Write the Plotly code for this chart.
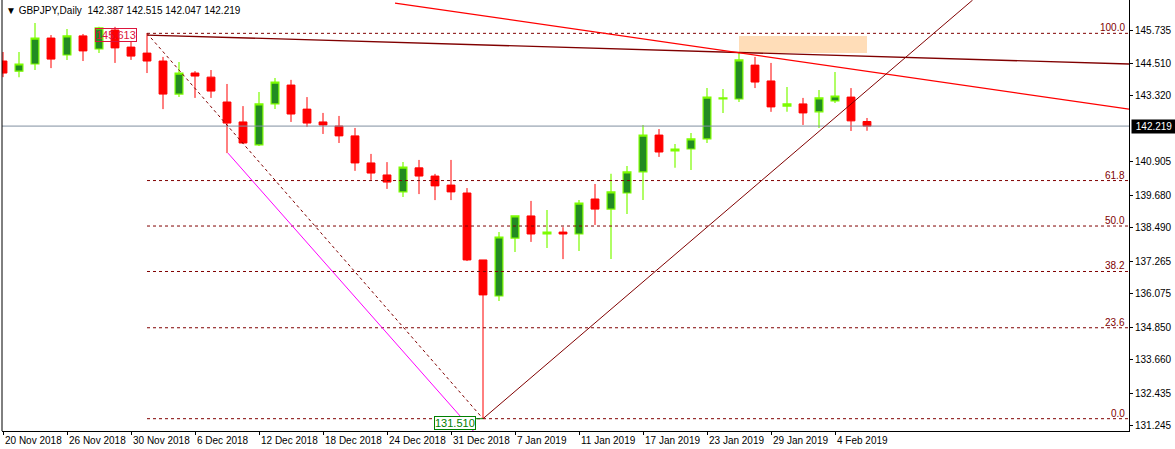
import plotly.graph_objects as go

dates = ["20 Nov","21 Nov","22 Nov","23 Nov","26 Nov","27 Nov","28 Nov","29 Nov","30 Nov",
         "3 Dec","4 Dec","5 Dec","6 Dec","7 Dec","10 Dec","11 Dec","12 Dec","13 Dec","14 Dec",
         "17 Dec","18 Dec","19 Dec","20 Dec","21 Dec","24 Dec","26 Dec","27 Dec","28 Dec","31 Dec",
         "2 Jan","3 Jan","4 Jan","7 Jan","8 Jan","9 Jan","10 Jan","11 Jan","14 Jan","15 Jan","16 Jan",
         "17 Jan","18 Jan","21 Jan","22 Jan","23 Jan","24 Jan","25 Jan","28 Jan","29 Jan","30 Jan",
         "31 Jan","1 Feb","4 Feb","5 Feb","6 Feb"]
open_ = [144.60,144.23,144.49,145.44,144.82,145.52,145.04,145.735,145.11,144.89,
         144.60,143.39,144.16,144.01,143.10,142.37,141.53,143.03,143.72,142.84,
         142.37,142.22,141.86,140.87,140.43,139.81,140.69,140.39,140.06,139.77,
         137.32,136.00,138.12,138.93,138.27,138.34,138.27,139.55,139.18,139.77,
         140.54,141.89,141.31,141.38,141.75,143.21,143.21,144.45,143.87,142.95,
         143.03,142.74,143.14,143.28,142.387]
high = [144.93,144.93,145.99,145.55,145.77,145.59,145.85,145.85,145.30,145.613,
        144.75,144.56,144.23,144.27,143.76,142.95,143.47,143.98,143.91,143.28,
        142.70,142.59,142.15,141.20,140.90,140.90,140.98,140.47,140.98,139.95,
        137.32,138.34,138.96,139.48,139.15,138.52,139.51,140.10,140.47,140.76,
        142.26,142.11,141.56,141.97,143.61,143.58,144.89,144.75,144.53,143.65,
        143.25,143.54,144.20,143.61,142.515]
low = [144.01,144.01,144.27,144.34,144.64,144.60,144.89,144.53,144.64,144.16,
       142.84,143.28,143.25,143.25,141.23,141.58,141.49,142.84,142.37,142.19,
       141.93,141.60,140.58,140.25,139.92,139.62,139.73,139.51,139.51,137.28,
       131.51,135.82,137.61,137.98,137.76,137.35,137.65,138.60,137.35,139.00,
       139.51,141.09,140.69,140.61,141.60,142.70,143.10,143.61,142.74,142.74,
       142.26,142.15,143.06,142.04,142.047]
close = [144.16,144.49,145.44,144.67,145.52,144.97,145.81,145.08,144.78,144.60,
         143.39,144.16,144.05,143.50,142.33,141.60,143.03,143.83,142.66,142.33,
         142.26,141.86,140.87,140.50,140.17,140.72,140.39,140.03,139.81,137.32,
         136.04,138.16,138.93,138.27,138.34,138.27,139.40,139.18,139.81,140.54,
         141.89,141.27,141.38,141.75,143.28,143.25,144.64,143.83,142.92,143.03,
         142.70,143.25,143.32,142.41,142.219]

y_ticks = [145.735,144.510,143.320,140.905,139.680,138.490,137.265,136.075,134.850,133.660,132.435,131.245]
x_label_idx = [0,4,8,12,16,20,24,28,32,36,40,44,48,52]
x_labels = ["20 Nov 2018","26 Nov 2018","30 Nov 2018","6 Dec 2018","12 Dec 2018","18 Dec 2018",
            "24 Dec 2018","31 Dec 2018","7 Jan 2019","11 Jan 2019","17 Jan 2019","23 Jan 2019",
            "29 Jan 2019","4 Feb 2019"]
fib_high, fib_low = 145.613, 131.510
fib_levels = [100.0, 61.8, 50.0, 38.2, 23.6, 0.0]
last_price = 142.219

x = list(range(len(dates)))
XMIN, XMAX = -0.0625, 70.375
YMIN, YMAX = 131.06, 146.833
font = "Liberation Sans"

fig = go.Figure()
fig.add_shape(type="rect", x0=46, x1=54, y0=144.89, y1=145.52, fillcolor="#FFDDB8",
              line_width=0, layer="below")

fig.add_trace(go.Scatter(x=[XMIN, XMAX], y=[last_price]*2, mode="lines",
                         line=dict(color="#8090A0", width=1), hoverinfo="skip"))
for lv in fib_levels:
    p = fib_low + (fib_high - fib_low) * lv / 100
    fig.add_trace(go.Scatter(x=[9, XMAX], y=[p, p], mode="lines",
                             line=dict(color="#800000", width=1, dash="3px,3px"), hoverinfo="skip"))
    fig.add_annotation(x=XMAX, y=p, text=f"{lv:.1f}", showarrow=False, xanchor="right",
                       yanchor="bottom", xshift=-2, yshift=-2,
                       font=dict(family=font, size=10, color="#800000"))

fig.add_trace(go.Candlestick(x=x, open=open_, high=high, low=low, close=close,
    increasing=dict(line=dict(color="#7CFC00", width=1.2), fillcolor="#228B22"),
    decreasing=dict(line=dict(color="#FF0000", width=1), fillcolor="#FF0000"),
    whiskerwidth=0, hoverinfo="skip"))

fig.add_trace(go.Scatter(x=[9, 30], y=[fib_high, fib_low], mode="lines",
                         line=dict(color="#800000", width=1, dash="dot"), hoverinfo="skip"))
fig.add_trace(go.Scatter(x=[9, XMAX], y=[145.55, 144.49], mode="lines",
                         line=dict(color="#800000", width=1.3), hoverinfo="skip"))
fig.add_trace(go.Scatter(x=[24.5, XMAX], y=[146.72, 142.84], mode="lines",
                         line=dict(color="#FF0000", width=1.2), hoverinfo="skip"))
fig.add_trace(go.Scatter(x=[30, 60.6], y=[fib_low, 146.83], mode="lines",
                         line=dict(color="#800000", width=1), hoverinfo="skip"))
fig.add_trace(go.Scatter(x=[14.06, 30.06], y=[141.23, 130.62], mode="lines",
                         line=dict(color="#FF00FF", width=1), hoverinfo="skip"))
fig.add_trace(go.Scatter(x=[28.25, 30], y=[fib_low, fib_low], mode="lines",
                         line=dict(color="#008000", width=1), hoverinfo="skip"))

fig.add_annotation(x=7.06, y=145.55, text="145.613", showarrow=False,
                   font=dict(family=font, size=11, color="#DC143C"),
                   bordercolor="#DC143C", borderwidth=1, borderpad=0)
fig.add_annotation(x=28.25, y=131.35, text="131.510", showarrow=False,
                   font=dict(family=font, size=11, color="#008000"),
                   bordercolor="#008000", borderwidth=1, borderpad=0, bgcolor="white")

fig.add_annotation(x=XMAX, y=last_price, text=" 142.219 ", showarrow=False, xanchor="left",
                   xshift=2, font=dict(family=font, size=10, color="white"), bgcolor="black")
fig.add_annotation(xref="paper", yref="paper", x=0.002, y=1, yshift=-3, xanchor="left",
                   yanchor="top", showarrow=False,
                   text="▼ GBPJPY,Daily  142.387 142.515 142.047 142.219",
                   font=dict(family=font, size=10, color="black"))
for i, t in zip(x_label_idx, x_labels):
    fig.add_annotation(x=i, xref="x", yref="paper", y=0, yshift=-2, xanchor="left",
                       yanchor="top", showarrow=False, text=t,
                       font=dict(family=font, size=10, color="black"))

fig.update_layout(
    width=1175, height=449, margin=dict(l=2, r=46, t=0, b=18),
    paper_bgcolor="white", plot_bgcolor="white", showlegend=False,
    xaxis=dict(range=[XMIN, XMAX], rangeslider=dict(visible=False), showgrid=False,
               zeroline=False, tickvals=x_label_idx, showticklabels=False, ticks="outside",
               ticklen=3, tickcolor="black", showline=True, linecolor="black", mirror=False),
    yaxis=dict(range=[YMIN, YMAX], side="right", showgrid=False, zeroline=False,
               tickvals=y_ticks, ticktext=[f"{v:.3f}" for v in y_ticks], ticks="outside",
               ticklen=3, tickcolor="black", showline=True, linecolor="black",
               tickfont=dict(family=font, size=10, color="black")),
)
fig.add_shape(type="line", xref="paper", yref="paper", x0=0, x1=0, y0=0, y1=1,
              line=dict(color="black", width=1))
fig.write_html("out.html", config={"displayModeBar": False},
               post_script="document.body.style.margin='0';document.body.style.overflow='hidden';")
